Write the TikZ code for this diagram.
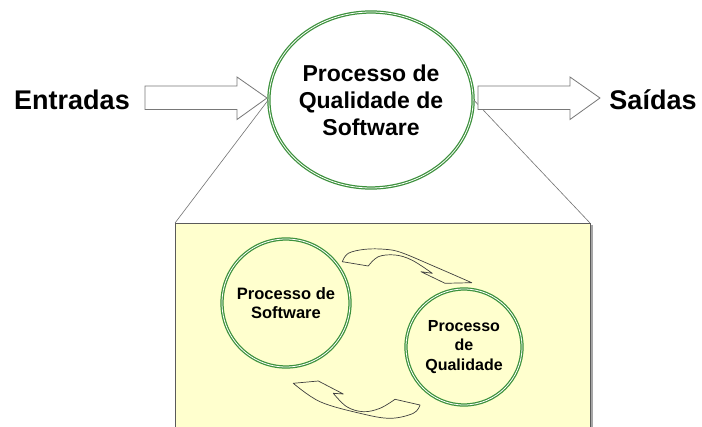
\documentclass[tikz,border=0pt]{standalone}
\usepackage{fontspec}
\setmainfont{Liberation Sans}
\usetikzlibrary{shapes.geometric}
\definecolor{ringgreen}{RGB}{60,145,60}
\definecolor{paleyellow}{RGB}{255,255,206}
\definecolor{boxedge}{RGB}{90,90,90}
\definecolor{arrowedge}{RGB}{120,120,120}
\begin{document}
\begin{tikzpicture}[x=1pt,y=-1pt,
  ring/.style={draw=ringgreen, double=white, double distance=0.8pt, line width=1.25pt, inner sep=0pt, align=center, font=\bfseries},
  blockarrow/.style={draw=arrowedge, fill=white, line width=0.8pt, line join=miter},
  curvarrow/.style={draw=black!75, line width=0.7pt, line join=round},
  label/.style={font=\fontsize{27}{30}\selectfont\bfseries, anchor=base, inner sep=0pt},
  guide/.style={draw=black!55, line width=0.6pt}]
\useasboundingbox (0,0) rectangle (702,427);
\fill[white] (0,0) rectangle (702,427);

% zoom box
\coordinate (bl) at (175,223);
\coordinate (br) at (590,223);
\fill[paleyellow] (bl) rectangle (590,428);
\draw[gray!70, line width=2.2pt] (592.2,225) -- (592.2,428);
\draw[boxedge, line width=0.8pt] (175,428) -- (bl) -- (br) -- (590,428);

% main circle
\node[ring, ellipse, minimum width=184pt, minimum height=176pt, font=\fontsize{23}{27}\selectfont\bfseries] (big) at (371,100) {Processo de\\Qualidade de\\Software};

% guide lines
\draw[guide] (big.west) -- (bl);
\draw[guide] (big.east) -- (br);

% inputs / outputs
\node[label] (in) at (72,110) {Entradas};
\node[label] (out) at (653,110) {Saídas};
\draw[blockarrow] (145,86) -- (237,86) -- (237,77) -- (267,98) -- (237,119.5) -- (237,109.5) -- (145,109.5) -- cycle;
\draw[blockarrow] (478,86) -- (570,86) -- (570,77) -- (600,98) -- (570,119.5) -- (570,109.5) -- (478,109.5) -- cycle;

% inner circles
\node[ring, circle, minimum size=128pt, font=\fontsize{16.5}{18.5}\selectfont\bfseries] (sw) at (286,303) {Processo de\\Software};
\node[ring, circle, minimum size=116pt, font=\fontsize{16}{19.5}\selectfont\bfseries] (qa) at (464,347) {Processo\\de\\Qualidade};

% curved arrows
\draw[curvarrow] plot[smooth, tension=0.6] coordinates {(342.3,261.7) (348.3,253.3) (365,249.3) (385,249.3) (401.7,252.7) (435,266.7) (461.7,278.3) (471.7,282.7)}
  -- (445,283.3) -- (421,271.7) -- (432.3,273.3)
  -- plot[smooth, tension=0.6] coordinates {(432.3,273.3) (411.7,260) (395,255) (378.3,256.7) (368.3,266)} -- cycle;
\draw[curvarrow] (293.3,383.3) -- (318.3,381) -- (343.3,394) -- (333.3,393.3)
  -- plot[smooth, tension=0.6] coordinates {(333.3,393.3) (346.7,406.7) (363.3,411.7) (380,408.3) (395,399.3)}
  -- (420,405)
  -- plot[smooth, tension=0.6] coordinates {(420,405) (413.3,413.3) (390,418.3) (360,413.3) (320,401.7) (293.3,383.3)} -- cycle;
\end{tikzpicture}
\end{document}
